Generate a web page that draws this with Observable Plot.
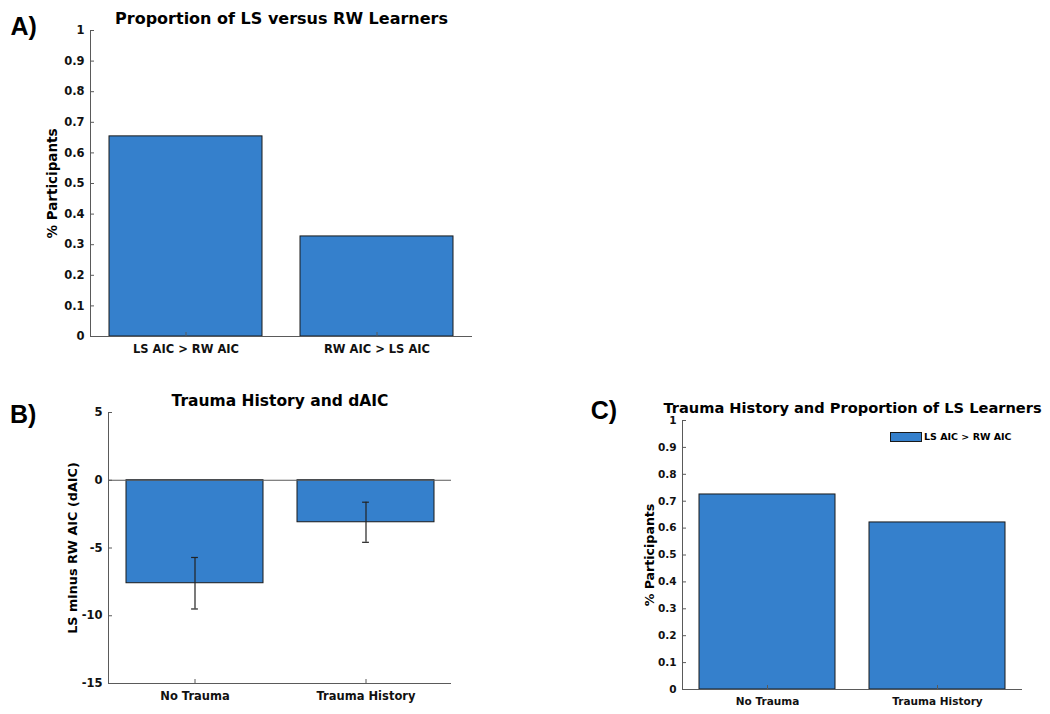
<!DOCTYPE html>
<html>
<head>
<meta charset="utf-8">
<script src="https://cdn.jsdelivr.net/npm/d3@7"></script>
<script src="https://cdn.jsdelivr.net/npm/@observablehq/plot@0.6"></script>
<style>
  html, body { margin: 0; padding: 0; background: #fff; }
  #root { position: relative; width: 1050px; height: 714px; overflow: hidden; background: #fff; }
  .panel { position: absolute; }
  .letter { position: absolute; font-family: "Liberation Sans", Arial, sans-serif; font-weight: bold; font-size: 25px; line-height: 1; color: #000; }
  .legend { position: absolute; left: 890px; top: 431px; display: flex; align-items: center; font-family: "DejaVu Sans", sans-serif; font-weight: bold; font-size: 9.5px; color: #000; }
  .swatch { width: 32px; height: 10px; background: #3580CC; border: 1px solid #1a1a1a; box-sizing: border-box; margin-right: 2px; }
</style>
</head>
<body>
<div id="root"></div>
<script>
// ---------- Data ----------
const aCategories = ["LS AIC > RW AIC", "RW AIC > LS AIC"];
const aValues = [0.654, 0.327];
const aTicks = [0, 0.1, 0.2, 0.3, 0.4, 0.5, 0.6, 0.7, 0.8, 0.9, 1];

const bCategories = ["No Trauma", "Trauma History"];
const bMeans = [-7.6, -3.1];
const bErrors = [1.9, 1.48];
const bTicks = [-15, -10, -5, 0, 5];

const cCategories = ["No Trauma", "Trauma History"];
const cValues = [0.725, 0.621];
const cTicks = [0, 0.1, 0.2, 0.3, 0.4, 0.5, 0.6, 0.7, 0.8, 0.9, 1];

const panelTitles = ["Proportion of LS versus RW Learners", "Trauma History and dAIC", "Trauma History and Proportion of LS Learners"];
const yLabels = ["% Participants", "LS minus RW AIC (dAIC)", "% Participants"];
const legendLabel = "LS AIC > RW AIC";

// ---------- Style ----------
const BLUE = "#3580CC";
const EDGE = "#1a1a1a";
const AXIS = "#5a5a5a";
const FONT = "DejaVu Sans";
const fmt = d => String(+(+d).toFixed(1));

function panel({categories, rows, yDomain, ticks, title, ylabel, width, height, m, fontSize, titleSize, ylabelSize, ylabelOffset, titleGap, baseline, errors}) {
  const pw = width - m.left - m.right;
  const ph = height - m.top - m.bottom;
  const step = pw / categories.length;
  const bw = step * 0.8;
  const capW = 7;
  const marks = [
    Plot.barY(rows, {x: "cat", y: "value", fill: BLUE, stroke: EDGE, strokeWidth: 1}),
    Plot.ruleY([yDomain[0]], {stroke: AXIS, strokeWidth: 1}),
    Plot.frame({anchor: "left", stroke: AXIS, strokeWidth: 1}),
    Plot.ruleY(ticks, {stroke: AXIS, strokeWidth: 1, insetRight: pw - 4}),
    Plot.ruleX(categories, {x: d => d, stroke: AXIS, strokeWidth: 1, insetTop: ph - 4}),
    Plot.axisY({ticks, tickSize: 0, tickPadding: 6, tickFormat: fmt, label: null, fontSize, fontWeight: "bold", fill: "#111"}),
    Plot.axisX({tickSize: 0, tickPadding: 8, label: null, fontSize, fontWeight: "bold", fill: "#111"}),
    Plot.text([title], {frameAnchor: "top", lineAnchor: "bottom", dy: -titleGap, fontSize: titleSize, fontWeight: "bold", fill: "#000"}),
    Plot.text([ylabel], {frameAnchor: "left", rotate: -90, dx: -ylabelOffset, textAnchor: "middle", lineAnchor: "middle", fontSize: ylabelSize, fontWeight: "bold", fill: "#000"})
  ];
  if (baseline !== undefined) marks.splice(1, 0, Plot.ruleY([baseline], {stroke: AXIS, strokeWidth: 1}));
  if (errors) {
    marks.push(
      Plot.ruleX(rows, {x: "cat", y1: d => d.value - d.err, y2: d => d.value + d.err, stroke: "#222", strokeWidth: 1.2}),
      Plot.tickY(rows, {x: "cat", y: d => d.value - d.err, stroke: "#222", strokeWidth: 1.2, insetLeft: (bw - capW) / 2, insetRight: (bw - capW) / 2}),
      Plot.tickY(rows, {x: "cat", y: d => d.value + d.err, stroke: "#222", strokeWidth: 1.2, insetLeft: (bw - capW) / 2, insetRight: (bw - capW) / 2})
    );
  }
  return Plot.plot({
    width, height,
    marginLeft: m.left, marginRight: m.right, marginTop: m.top, marginBottom: m.bottom,
    style: {fontFamily: FONT, background: "transparent", overflow: "visible"},
    x: {domain: categories, paddingInner: 0.2, paddingOuter: 0.1, align: 0.5, axis: null},
    y: {domain: yDomain, axis: null},
    marks
  });
}

const root = document.getElementById("root");
function place(el, left, top) {
  el.classList.add("panel");
  el.style.left = left + "px";
  el.style.top = top + "px";
  root.appendChild(el);
}

// Panel A
const aRows = aCategories.map((cat, i) => ({cat, value: aValues[i]}));
place(panel({
  categories: aCategories, rows: aRows, yDomain: [0, 1], ticks: aTicks,
  title: panelTitles[0], ylabel: yLabels[0],
  width: 480, height: 370, m: {left: 90, right: 8, top: 30, bottom: 34},
  fontSize: 11.5, titleSize: 16, ylabelSize: 13.5, ylabelOffset: 38, titleGap: 7
}), 0, 0);

// Panel B
const bRows = bCategories.map((cat, i) => ({cat, value: bMeans[i], err: bErrors[i]}));
place(panel({
  categories: bCategories, rows: bRows, yDomain: [-15, 5], ticks: bTicks,
  title: panelTitles[1], ylabel: yLabels[1],
  width: 480, height: 324, m: {left: 108, right: 29, top: 22, bottom: 31},
  fontSize: 11.5, titleSize: 15.5, ylabelSize: 12.8, ylabelOffset: 36, titleGap: 7,
  baseline: 0, errors: true
}), 0, 390);

// Panel C
const cRows = cCategories.map((cat, i) => ({cat, value: cValues[i]}));
place(panel({
  categories: cCategories, rows: cRows, yDomain: [0, 1], ticks: cTicks,
  title: panelTitles[2], ylabel: yLabels[2],
  width: 450, height: 324, m: {left: 82, right: 28, top: 30, bottom: 25},
  fontSize: 10.5, titleSize: 14.6, ylabelSize: 12.6, ylabelOffset: 33, titleGap: 8
}), 600, 390);

// Panel letters
[["A)", 10.5, 13.7], ["B)", 10, 401.7], ["C)", 590.7, 398.4]].forEach(([t, x, y]) => {
  const d = document.createElement("div");
  d.className = "letter"; d.textContent = t;
  d.style.left = x + "px"; d.style.top = y + "px";
  root.appendChild(d);
});

// Legend for panel C
const lg = document.createElement("div");
lg.className = "legend";
const sw = document.createElement("div"); sw.className = "swatch";
const lt = document.createElement("span"); lt.textContent = legendLabel;
lg.appendChild(sw); lg.appendChild(lt);
root.appendChild(lg);
</script>
</body>
</html>
